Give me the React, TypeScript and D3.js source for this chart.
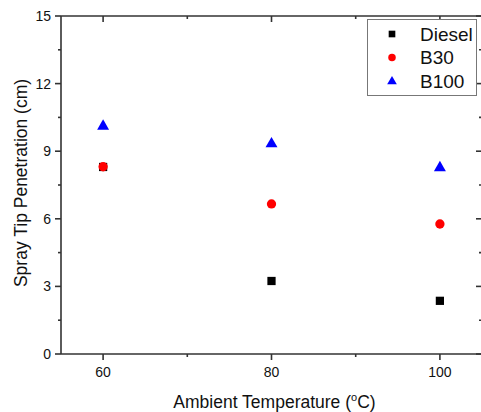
import React from "react";
import * as d3 from "d3";

const temps = [60, 80, 100];
const diesel = [8.3, 3.24, 2.36];
const b30 = [8.31, 6.66, 5.77];
const b100 = [10.13, 9.35, 8.29];
const xTicks = [60, 80, 100];
const xMinor = [70, 90];
const yTicks = [0, 3, 6, 9, 12, 15];
const yMinor = [1.5, 4.5, 7.5, 10.5, 13.5];
const seriesNames = ["Diesel", "B30", "B100"];
const seriesColors = ["#000000", "#ff0000", "#0000ff"];

const W = 481, H = 412;
const L = 61, R = 482, T = 16, B = 354;
const FONT = "'Liberation Sans', Arial, sans-serif";
const AX = "#333333";

function Marker({ kind, x, y, color, scale = 1 }: { kind: number; x: number; y: number; color: string; scale?: number }) {
  if (kind === 0) {
    const sym = d3.symbol().type(d3.symbolSquare).size(68 * scale)();
    return <path d={sym || ""} transform={`translate(${x},${y})`} fill={color} />;
  }
  if (kind === 1) {
    const sym = d3.symbol().type(d3.symbolCircle).size(68 * scale)();
    return <path d={sym || ""} transform={`translate(${x},${y})`} fill={color} />;
  }
  const sym = d3.symbol().type(d3.symbolTriangle).size(62 * scale)();
  return <path d={sym || ""} transform={`translate(${x},${y + 0.5})`} fill={color} />;
}

export default function App() {
  const x = d3.scaleLinear().domain([55, 105]).range([L, R]);
  const y = d3.scaleLinear().domain([0, 15]).range([B, T]);
  const all = [diesel, b30, b100];

  return (
    <svg width={W} height={H} style={{ position: "absolute", left: 0, top: 0, background: "#fff" }} fontFamily={FONT}>
      <rect x={0} y={0} width={W} height={H} fill="#fff" />
      <g stroke={AX} strokeWidth={1.6} fill="none">
        <line x1={L} x2={R} y1={B} y2={B} />
        <line x1={L} x2={R} y1={T} y2={T} />
        <line x1={L} x2={L} y1={T} y2={B} />
        <line x1={R} x2={R} y1={T} y2={B} />
        {xTicks.map((t) => (
          <g key={"xt" + t}>
            <line x1={x(t)} x2={x(t)} y1={B} y2={B + 6} />
            <line x1={x(t)} x2={x(t)} y1={T} y2={T + 6} />
          </g>
        ))}
        {xMinor.map((t) => (
          <g key={"xm" + t}>
            <line x1={x(t)} x2={x(t)} y1={B} y2={B + 3} />
            <line x1={x(t)} x2={x(t)} y1={T} y2={T + 3} />
          </g>
        ))}
        {yTicks.map((t) => (
          <g key={"yt" + t}>
            <line x1={L - 6} x2={L} y1={y(t)} y2={y(t)} />
            <line x1={R - 6} x2={R} y1={y(t)} y2={y(t)} />
          </g>
        ))}
        {yMinor.map((t) => (
          <g key={"ym" + t}>
            <line x1={L - 3} x2={L} y1={y(t)} y2={y(t)} />
            <line x1={R - 3} x2={R} y1={y(t)} y2={y(t)} />
          </g>
        ))}
      </g>
      {xTicks.map((t) => (
        <text key={"xl" + t} x={x(t)} y={B + 23} textAnchor="middle" fontSize={14} fill="#111">
          {t}
        </text>
      ))}
      {yTicks.map((t) => (
        <text key={"yl" + t} x={L - 10} y={y(t) + 5} textAnchor="end" fontSize={14} fill="#111">
          {t}
        </text>
      ))}
      <text x={(L + 482) / 2 + 3} y={408} textAnchor="middle" fontSize={17.5} fill="#111">
        Ambient Temperature (<tspan dy={-7} fontSize={11}>o</tspan>
        <tspan dy={7}>C)</tspan>
      </text>
      <text
        transform={`translate(27,${(T + B) / 2 - 2}) rotate(-90)`}
        textAnchor="middle"
        fontSize={17.5}
        fill="#111"
      >
        Spray Tip Penetration (cm)
      </text>
      {all.map((s, si) =>
        s.map((v, i) => (
          <Marker key={si + "-" + i} kind={si} x={x(temps[i])} y={y(v)} color={seriesColors[si]} />
        ))
      )}
      <rect x={367.5} y={19.5} width={109} height={76} fill="#fff" stroke="#777" strokeWidth={1} />
      {seriesNames.map((n, i) => (
        <g key={n}>
          <Marker kind={i} x={392} y={34 + i * 23.5} color={seriesColors[i]} scale={0.65} />
          <text x={420} y={34 + i * 23.5 + 6.5} fontSize={19} fill="#111">
            {n}
          </text>
        </g>
      ))}
    </svg>
  );
}
